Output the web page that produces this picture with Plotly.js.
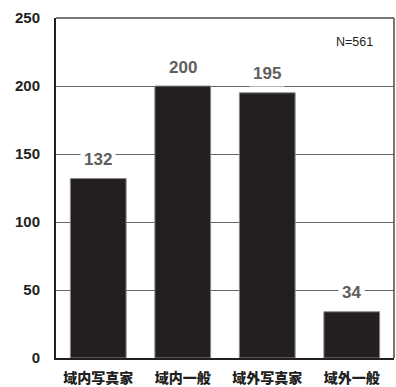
<!DOCTYPE html>
<html>
<head>
<meta charset="utf-8">
<script src="https://cdn.plot.ly/plotly-3.0.1.min.js"></script>
<style>html,body{margin:0;padding:0;background:#fff;}#chart{width:396px;height:387px;}</style>
</head>
<body>
<div id="chart"></div>
<script>
const categories = ["域内写真家", "域内一般", "域外写真家", "域外一般"];
const values = [132, 200, 195, 34];
const yTicks = [0, 50, 100, 150, 200, 250];
const noteText = "N=561";

const numFont = '"Liberation Sans", Arial, sans-serif';

const trace = {
  type: 'bar',
  x: categories,
  y: values,
  marker: {color: '#231f20', line: {color: '#8a8a8a', width: 1}},
  width: 0.66,
  hoverinfo: 'none'
};

const annotations = categories.map((c, i) => ({
  x: c, y: values[i], xref: 'x', yref: 'y',
  text: String(values[i]),
  showarrow: false,
  yanchor: 'middle',
  yshift: 19,
  bgcolor: '#ffffff',
  borderpad: 3,
  font: {family: numFont, size: 17, color: '#5e5e5e', weight: 'bold'}
}));
annotations.push({
  x: 0.945, y: 232, xref: 'paper', yref: 'y',
  text: noteText, showarrow: false, xanchor: 'right', yanchor: 'middle',
  font: {family: numFont, size: 12.5, color: '#231f20'}
});

const layout = {
  width: 396, height: 387,
  margin: {l: 56, r: 2, t: 18, b: 29},
  paper_bgcolor: '#ffffff', plot_bgcolor: '#ffffff',
  showlegend: false,
  bargap: 0.34,
  xaxis: {
    type: 'category',
    showline: true, linecolor: '#231f20', linewidth: 2,
    showgrid: false, zeroline: false, ticks: '',
    tickfont: {family: '"Noto Sans CJK JP", sans-serif', size: 14, color: '#231f20', weight: 900},
    ticklabelstandoff: 6
  },
  yaxis: {
    range: [0, 250], tickvals: yTicks, ticktext: yTicks.map(String),
    showline: true, linecolor: '#231f20', linewidth: 2,
    showgrid: true, gridcolor: '#666666', gridwidth: 1,
    zeroline: false, ticks: '',
    tickfont: {family: numFont, size: 15, color: '#231f20', weight: 'bold'},
    ticklabelstandoff: 11
  },
  shapes: [
    {type: 'line', xref: 'paper', yref: 'paper', x0: 0, x1: 1, y0: 1, y1: 1, line: {color: '#4a4a4a', width: 1.5}},
    {type: 'line', xref: 'paper', yref: 'paper', x0: 1, x1: 1, y0: 0, y1: 1, line: {color: '#4a4a4a', width: 1.5}}
  ],
  annotations: annotations
};

Plotly.newPlot('chart', [trace], layout, {displayModeBar: false, staticPlot: true});
</script>
</body>
</html>
